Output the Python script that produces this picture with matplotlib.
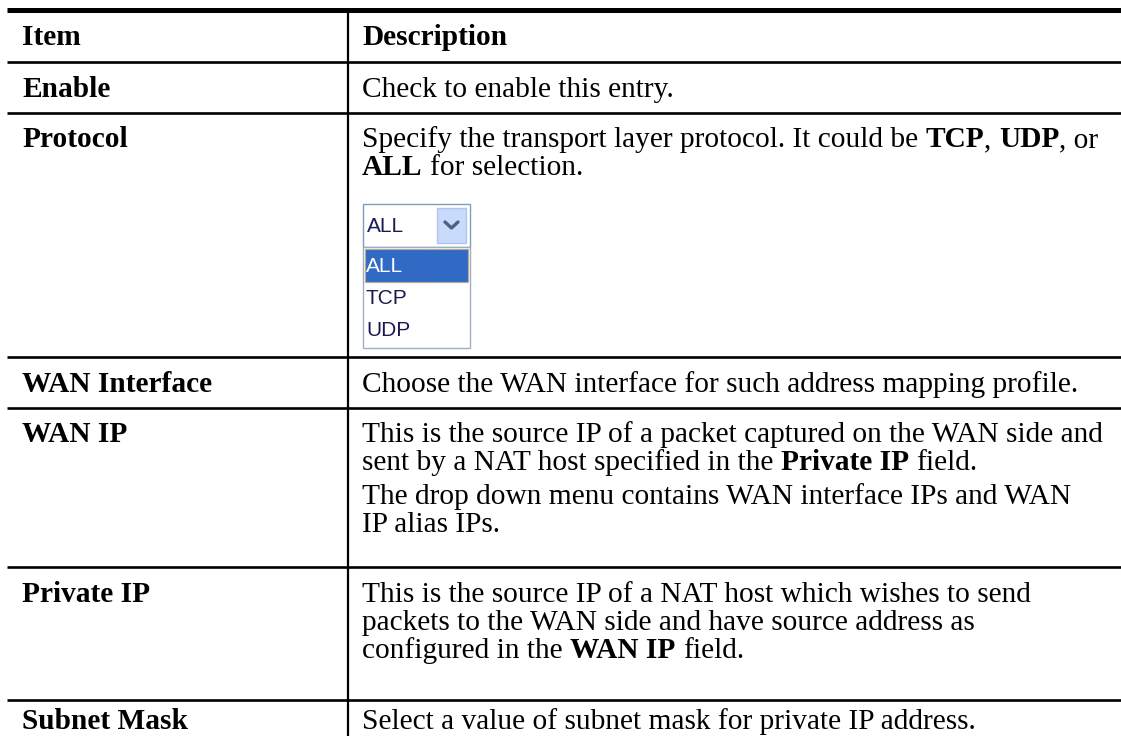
import re
import matplotlib
matplotlib.use('Agg')
import matplotlib.pyplot as plt
from matplotlib.patches import Rectangle

# table content
header = ["Item", "Description"]
items = ["Enable", "Protocol", "WAN Interface", "WAN IP", "Private IP", "Subnet Mask"]
descriptions = [
    [["Check to enable this entry."]],
    [["Specify the transport layer protocol. It could be **TCP**, **UDP**, or",
      "**ALL** for selection."]],
    [["Choose the WAN interface for such address mapping profile."]],
    [["This is the source IP of a packet captured on the WAN side and",
      "sent by a NAT host specified in the **Private IP** field."],
     ["The drop down menu contains WAN interface IPs and WAN",
      "IP alias IPs."]],
    [["This is the source IP of a NAT host which wishes to send",
      "packets to the WAN side and have source address as",
      "configured in the **WAN IP** field."]],
    [["Select a value of subnet mask for private IP address."]],
]
dropdown_value = "ALL"
dropdown_options = ["ALL", "TCP", "UDP"]

# layout (pixels)
W, H = 1121, 736
row_lines = [62, 113, 357, 408, 567, 700]
row_base_y = [97, 147, 392, 442, 602, 729]
header_y = 45
col_x = 348
x1, x2 = 22, 362
line_h = 28
para_gap = 6
FS = 21.2
SERIF = 'Liberation Serif'

fig = plt.figure(figsize=(W / 100, H / 100), dpi=100)
ax = fig.add_axes([0, 0, 1, 1])
ax.set_xlim(0, W)
ax.set_ylim(H, 0)
ax.axis('off')
renderer = fig.canvas.get_renderer()


def text_w(s, weight):
    t = ax.text(0, 0, s, fontsize=FS, family=SERIF, fontweight=weight)
    w = t.get_window_extent(renderer).width
    t.remove()
    return w


space_w = {wt: text_w("x x", wt) - text_w("xx", wt) for wt in ('normal', 'bold')}


def rich_line(x, y, line):
    parts = re.split(r'\*\*', line)
    for i, seg in enumerate(parts):
        if not seg:
            continue
        wt = 'bold' if i % 2 else 'normal'
        lead = len(seg) - len(seg.lstrip(' '))
        trail = len(seg) - len(seg.rstrip(' '))
        x += lead * space_w[wt]
        core = seg.strip(' ')
        t = ax.text(x, y, core, fontsize=FS, family=SERIF, fontweight=wt,
                    va='baseline', ha='left', color='black')
        x += t.get_window_extent(renderer).width
        x += trail * space_w[wt]


# grid lines
ax.plot([7, W], [9.5, 9.5], color='black', lw=3.6, solid_capstyle='butt')
for y in row_lines:
    ax.plot([7, W], [y, y], color='black', lw=1.9, solid_capstyle='butt')
ax.plot([col_x, col_x], [9.5, H], color='black', lw=1.6, solid_capstyle='butt')

# header
ax.text(x1, header_y, header[0], fontsize=FS, family=SERIF, fontweight='bold', va='baseline')
ax.text(x2, header_y, header[1], fontsize=FS, family=SERIF, fontweight='bold', va='baseline')

# rows
for item, desc, ty in zip(items, descriptions, row_base_y):
    ax.text(x1, ty, item, fontsize=FS, family=SERIF, fontweight='bold', va='baseline')
    y = ty
    for p, para in enumerate(desc):
        if p > 0:
            y += para_gap
        for line in para:
            rich_line(x2, y, line)
            y += line_h

# protocol drop-down widget
dd_left, dd_right = 363, 470
ax.add_patch(Rectangle((dd_left, 204), dd_right - dd_left, 43, fc='white', ec='#7F9DB9', lw=1))
ax.add_patch(Rectangle((437, 208), 29, 35, fc='#C9DAFB', ec='#AFC4F0', lw=1))
ax.plot([445, 451.5, 458], [222, 228, 222], color='#4D6185', lw=2.4, solid_capstyle='round')
ax.text(367, 226, dropdown_value, fontsize=15, family='Liberation Sans', color='#1A1A50', va='center')
ax.add_patch(Rectangle((dd_left, 247), dd_right - dd_left, 101, fc='white', ec='#A0AEC0', lw=1))
ax.add_patch(Rectangle((365, 249), 103, 33, fc='#316AC5', ec='#C8A060', lw=1, ls=(0, (1, 1))))
for k, opt in enumerate(dropdown_options):
    ax.text(366, 266 + k * 32.5, opt, fontsize=15, family='Liberation Sans',
            color='white' if k == 0 else '#1A1A50', va='center')

fig.savefig('out.png', dpi=100)
